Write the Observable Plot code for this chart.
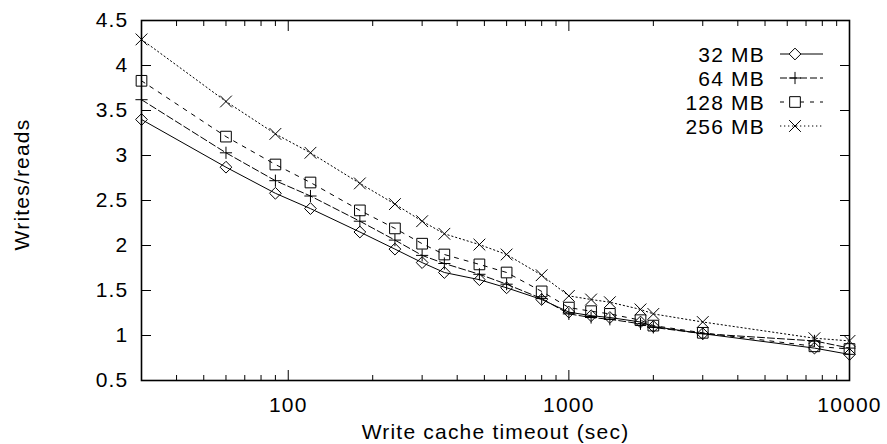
<!DOCTYPE html>
<html><head><meta charset="utf-8">
<script src="https://cdn.jsdelivr.net/npm/d3@7"></script>
<script src="https://cdn.jsdelivr.net/npm/@observablehq/plot@0.6"></script>
<style>
html,body{margin:0;padding:0;background:#fff}
#chart{width:887px;height:444px}
#chart svg text{font-family:"Liberation Sans",Arial,Helvetica,sans-serif;letter-spacing:1.2px}
</style></head><body><div id="chart"></div>
<script>
const timeouts = [30,60,90,120,180,240,300,360,480,600,800,1000,1200,1400,1800,2000,3000,7500,10000];
const mb32  = [3.40,2.87,2.58,2.41,2.15,1.96,1.81,1.70,1.62,1.53,1.40,1.26,1.22,1.20,1.15,1.10,1.02,0.86,0.79];
const mb64  = [3.62,3.03,2.72,2.55,2.27,2.06,1.89,1.80,1.68,1.57,1.41,1.24,1.20,1.18,1.13,1.09,1.02,0.94,0.86];
const mb128 = [3.83,3.21,2.90,2.70,2.39,2.19,2.02,1.90,1.79,1.70,1.49,1.31,1.27,1.24,1.17,1.11,1.03,0.88,0.85];
const mb256 = [4.29,3.60,3.24,3.03,2.69,2.46,2.27,2.13,2.01,1.90,1.67,1.44,1.40,1.37,1.29,1.24,1.15,0.97,0.94];
const seriesNames = ["32 MB","64 MB","128 MB","256 MB"];
const yTicks = [0.5,1,1.5,2,2.5,3,3.5,4,4.5];
const xMajorTicks = [100,1000,10000];
const xMinorTicks = [40,50,60,70,80,90,200,300,400,500,600,700,800,900,2000,3000,4000,5000,6000,7000,8000,9000];
const xLabel = "Write cache timeout (sec)";
const yLabel = "Writes/reads";

const seriesValues = [mb32, mb64, mb128, mb256];
const styles = [
  {symbol:"diamond2", r:5.3, dash:null},
  {symbol:"plus", r:4, dash:"7,3"},
  {symbol:"square2", r:6.8, dash:"4,6"},
  {symbol:"times", r:5.4, dash:"1.3,2.7"}
];
const rows = seriesNames.map((name, i) => timeouts.map((t, j) => ({series:name, t, v:seriesValues[i][j]})));

const FS = 21;
const marks = [];
rows.forEach((data, i) => {
  marks.push(Plot.line(data, {x:"t", y:"v", stroke:"black", strokeWidth:1, strokeDasharray:styles[i].dash}));
});
rows.forEach((data, i) => {
  marks.push(Plot.dot(data, {x:"t", y:"v", symbol:()=>styles[i].symbol, r:styles[i].r, stroke:"black", strokeWidth:1, fill:"none"}));
});
marks.push(
  Plot.axisY(yTicks, {anchor:"left", tickSize:-10, tickPadding:23, tickFormat:d=>String(d), fontSize:FS, label:null, strokeWidth:1}),
  Plot.axisY(yTicks, {anchor:"right", tickSize:-10, tickFormat:()=>"", label:null, strokeWidth:1}),
  Plot.axisX(xMajorTicks, {anchor:"bottom", tickSize:-10, tickPadding:27, tickFormat:d=>String(d), fontSize:FS, label:null, strokeWidth:1}),
  Plot.axisX(xMinorTicks, {anchor:"bottom", tickSize:-5, tickFormat:()=>"", label:null, strokeWidth:1}),
  Plot.axisX(xMajorTicks, {anchor:"top", tickSize:-10, tickFormat:()=>"", label:null, strokeWidth:1}),
  Plot.axisX(xMinorTicks, {anchor:"top", tickSize:-5, tickFormat:()=>"", label:null, strokeWidth:1}),
  Plot.frame({stroke:"black", strokeWidth:1.6}),
  Plot.text([yLabel], {frameAnchor:"left", text:d=>d, rotate:-90, textAnchor:"middle", dx:-119, dy:-16, fontSize:FS}),
  Plot.text([xLabel], {frameAnchor:"bottom", text:d=>d, textAnchor:"middle", lineAnchor:"middle", dy:52, fontSize:FS})
);

const chart = Plot.plot({
  width:887, height:444,
  marginLeft:141, marginRight:38, marginTop:20, marginBottom:64,
  style:{background:"white", color:"black", fontSize:FS+"px"},
  x:{type:"log", domain:[30,10000]},
  y:{domain:[0.5,4.5]},
  marks
});
document.getElementById("chart").appendChild(chart);

// legend (top-right, inside the plot frame)
const svg = d3.select(chart);
const g = svg.append("g").attr("class","legend");
const legendRows = [54, 78, 102, 126];
const symMap = {diamond2:d3.symbolDiamond2, plus:d3.symbolPlus, square2:d3.symbolSquare2, times:d3.symbolTimes};
seriesNames.forEach((name, i) => {
  const y = legendRows[i];
  g.append("text").attr("x",765).attr("y",y).attr("dy","0.36em").attr("text-anchor","end")
    .attr("font-size",FS).attr("fill","black").text(name);
  g.append("line").attr("x1",780).attr("x2",823).attr("y1",y).attr("y2",y)
    .attr("stroke","black").attr("stroke-width",1).attr("stroke-dasharray",styles[i].dash);
  g.append("path").attr("transform",`translate(795,${y})`)
    .attr("d", d3.symbol(symMap[styles[i].symbol], Math.PI*styles[i].r*styles[i].r)())
    .attr("fill","white").attr("stroke","black").attr("stroke-width",1);
});
</script></body></html>
